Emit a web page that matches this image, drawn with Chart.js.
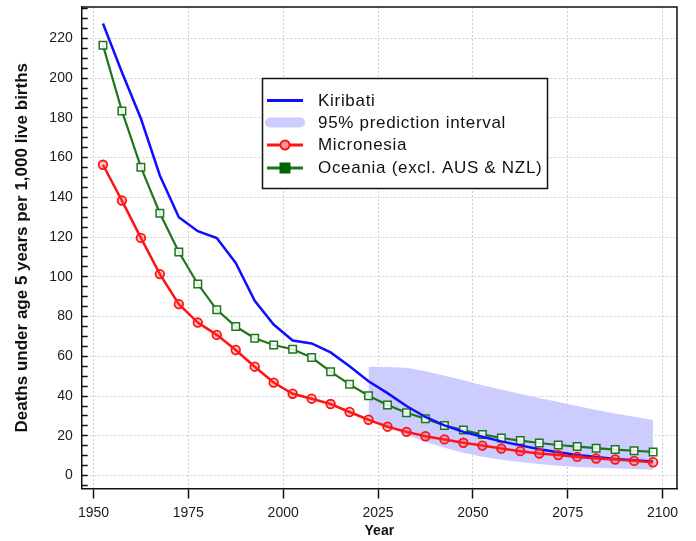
<!DOCTYPE html>
<html>
<head>
<meta charset="utf-8">
<script src="https://cdn.jsdelivr.net/npm/chart.js@4.4.1/dist/chart.umd.min.js"></script>
<style>
html,body{margin:0;padding:0;background:#fff;}
canvas{display:block;}
</style>
</head>
<body>
<canvas id="c" width="696" height="541"></canvas>
<script>
// ---- Data ----
const years = [1952.5,1957.5,1962.5,1967.5,1972.5,1977.5,1982.5,1987.5,1992.5,1997.5,
               2002.5,2007.5,2012.5,2017.5,2022.5,2027.5,2032.5,2037.5,2042.5,2047.5,
               2052.5,2057.5,2062.5,2067.5,2072.5,2077.5,2082.5,2087.5,2092.5,2097.5];
const kiribati = [227.5,203,179.7,151,130,123,119.5,107,88,76,
                  68,66.5,62,55,47.5,41.5,35,29.5,25.3,22,
                  19.5,17.2,15.2,13.3,11.7,10.4,9.3,8.4,7.7,7.1];
const micronesia = [156.4,138.4,119.6,101.4,86.3,77,70.8,63.2,54.8,46.8,
                    41.2,38.7,36,32,28.1,24.6,22,19.8,18.2,16.5,
                    15.1,13.6,12.3,11.1,10.3,9.4,8.6,8.1,7.4,6.7];
const oceania = [216.6,183.5,155.2,132,112.5,96.4,83.4,75,69.1,65.7,
                 63.6,59.4,52.3,45.9,40.2,35.5,31.6,28.6,25.2,22.9,
                 20.7,18.9,17.6,16.4,15.4,14.6,13.8,13.1,12.5,11.9];
const piYears = [2022.5,2027.5,2032.5,2037.5,2042.5,2047.5,2052.5,2057.5,
                 2062.5,2067.5,2072.5,2077.5,2082.5,2087.5,2092.5,2097.5];
const piUpper = [54.8,54.6,54.3,52.5,50.2,48,45.5,43.3,41,39,37,35,33,31.2,29.6,28];
const piLower = [30,24.5,20.5,17,14,11.5,9.5,8,6.8,5.8,5,4.3,3.9,3.6,3.3,3.1];
const xTickValues = [1950,1975,2000,2025,2050,2075,2100];
const yTickLabels = [0,20,40,60,80,100,120,140,160,180,200,220];
const seriesNames = ['Kiribati','95% prediction interval','Micronesia','Oceania (excl. AUS & NZL)'];
const xTitle = 'Year';
const yTitle = 'Deaths under age 5 years per 1,000 live births';

// ---- Styles ----
const FONT = "'Liberation Sans', Arial, Helvetica, sans-serif";
const BLUE = 'rgb(15,15,255)';
const RED = 'rgb(255,20,20)';
const RED_FILL = 'rgba(255,60,60,0.3)';
const GREEN = 'rgb(28,118,28)';
const BAND = 'rgb(204,204,255)';
const GRID = 'rgb(205,205,205)';

const pts = (xs, ys) => xs.map((x, i) => ({x: x, y: ys[i]}));

// minor y ticks every 5 between axis limits
const yMin = -6.5, yMax = 235.8;
const yMinor = [];
for (let v = -5; v <= 235; v += 5) yMinor.push(v);

const frameAndLegend = {
  id: 'frameAndLegend',
  afterDraw(chart) {
    const ctx = chart.ctx;
    const a = chart.chartArea;
    ctx.save();
    // top & right frame
    ctx.strokeStyle = '#111';
    ctx.lineWidth = 1.5;
    ctx.beginPath();
    ctx.moveTo(a.left, a.top);
    ctx.lineTo(a.right, a.top);
    ctx.lineTo(a.right, a.bottom);
    ctx.stroke();

    // legend box
    const bx = 262.5, by = 78.5, bw = 285, bh = 110;
    ctx.fillStyle = '#fff';
    ctx.fillRect(bx, by, bw, bh);
    ctx.strokeStyle = '#111';
    ctx.lineWidth = 1.5;
    ctx.strokeRect(bx, by, bw, bh);

    const rows = [100.5, 122.5, 145, 168];
    const x0 = 267, x1 = 303, xm = (x0 + x1) / 2;
    // Kiribati
    ctx.strokeStyle = BLUE; ctx.lineWidth = 3; ctx.lineCap = 'butt';
    ctx.beginPath(); ctx.moveTo(x0, rows[0]); ctx.lineTo(x1, rows[0]); ctx.stroke();
    // band
    ctx.strokeStyle = BAND; ctx.lineWidth = 10; ctx.lineCap = 'round';
    ctx.beginPath(); ctx.moveTo(x0 + 3, rows[1]); ctx.lineTo(x1 - 3, rows[1]); ctx.stroke();
    ctx.lineCap = 'butt';
    // Micronesia
    ctx.strokeStyle = RED; ctx.lineWidth = 3;
    ctx.beginPath(); ctx.moveTo(x0, rows[2]); ctx.lineTo(x1, rows[2]); ctx.stroke();
    ctx.beginPath(); ctx.arc(xm, rows[2], 4.5, 0, Math.PI * 2);
    ctx.fillStyle = 'rgb(255,150,150)'; ctx.fill();
    ctx.lineWidth = 2; ctx.stroke();
    // Oceania
    ctx.strokeStyle = GREEN; ctx.lineWidth = 3;
    ctx.beginPath(); ctx.moveTo(x0, rows[3]); ctx.lineTo(x1, rows[3]); ctx.stroke();
    ctx.fillStyle = 'rgb(0,100,0)';
    ctx.fillRect(xm - 5.5, rows[3] - 5.5, 11, 11);

    ctx.fillStyle = '#111';
    ctx.font = '17px ' + FONT;
    try { ctx.letterSpacing = '0.7px'; } catch (e) {}
    ctx.textBaseline = 'middle';
    ctx.textAlign = 'left';
    seriesNames.forEach((n, i) => ctx.fillText(n, 318, rows[i] + 0.5));
    ctx.restore();
  }
};

new Chart(document.getElementById('c').getContext('2d'), {
  type: 'line',
  data: {
    datasets: [
      {
        label: seriesNames[0], data: pts(years, kiribati),
        borderColor: BLUE, borderWidth: 2.5, pointRadius: 0, fill: false, order: 2, tension: 0
      },
      {
        label: 'upper', data: pts(piYears, piUpper),
        borderColor: 'rgba(0,0,0,0)', borderWidth: 1, backgroundColor: BAND,
        pointRadius: 0, fill: '+1', order: 10, tension: 0
      },
      {
        label: 'lower', data: pts(piYears, piLower),
        borderColor: 'rgba(0,0,0,0)', borderWidth: 1, backgroundColor: BAND,
        pointRadius: 0, fill: false, order: 11, tension: 0
      },
      {
        label: seriesNames[2], data: pts(years, micronesia),
        borderColor: RED, borderWidth: 2.5, fill: false, order: 1, tension: 0,
        pointStyle: 'circle', pointRadius: 4.3, pointBorderWidth: 1.8,
        pointBorderColor: RED, pointBackgroundColor: RED_FILL
      },
      {
        label: seriesNames[3], data: pts(years, oceania),
        borderColor: GREEN, borderWidth: 2.2, fill: false, order: 3, tension: 0,
        pointStyle: 'rect', pointRadius: 5.3, pointBorderWidth: 1.5,
        pointBorderColor: GREEN, pointBackgroundColor: 'rgba(255,255,255,0.85)'
      }
    ]
  },
  options: {
    responsive: false,
    animation: false,
    devicePixelRatio: 1,
    layout: { padding: { left: 0, top: 7, right: 19, bottom: 0 } },
    plugins: {
      legend: { display: false },
      tooltip: { enabled: false },
      title: { display: false }
    },
    scales: {
      x: {
        type: 'linear', min: 1946.9, max: 2103.8,
        afterBuildTicks: s => { s.ticks = xTickValues.map(v => ({value: v})); },
        afterFit: s => { s.height = 541 - 488.5; s.paddingLeft = 0; s.paddingRight = 0; },
        ticks: {
          font: { family: FONT, size: 14 }, color: '#1a1a1a', padding: 6,
          maxRotation: 0, autoSkip: false, callback: v => String(v)
        },
        grid: {
          color: GRID, lineWidth: 1, tickLength: 10, tickColor: '#111', tickWidth: 1.5,
          drawOnChartArea: true, drawTicks: true
        },
        border: { display: true, color: '#111', width: 1.5, dash: [2, 2] },
        title: {
          display: true, text: xTitle, color: '#111',
          font: { family: FONT, size: 14, weight: 'bold', lineHeight: 1.2 },
          padding: { top: 0, bottom: 1 }
        }
      },
      y: {
        type: 'linear', min: yMin, max: yMax,
        afterBuildTicks: s => { s.ticks = yMinor.map(v => ({value: v})); },
        afterFit: s => { s.width = 81.7; s.paddingTop = 0; s.paddingBottom = 0; },
        ticks: {
          font: { family: FONT, size: 14 }, color: '#1a1a1a', padding: 15,
          autoSkip: false,
          callback: v => yTickLabels.includes(v) ? String(v) : ''
        },
        grid: {
          color: c => (c.tick && yTickLabels.includes(c.tick.value)) ? GRID : 'rgba(0,0,0,0)',
          lineWidth: 1, tickLength: -6, tickColor: '#111', tickWidth: 1.5,
          drawOnChartArea: true, drawTicks: true
        },
        border: { display: true, color: '#111', width: 1.5, dash: [2, 2] },
        title: {
          display: true, text: yTitle, color: '#111',
          font: { family: FONT, size: 17, weight: 'bold', lineHeight: 1.2 },
          padding: { top: 12, bottom: 0 }
        }
      }
    }
  },
  plugins: [frameAndLegend]
});
</script>
</body>
</html>
